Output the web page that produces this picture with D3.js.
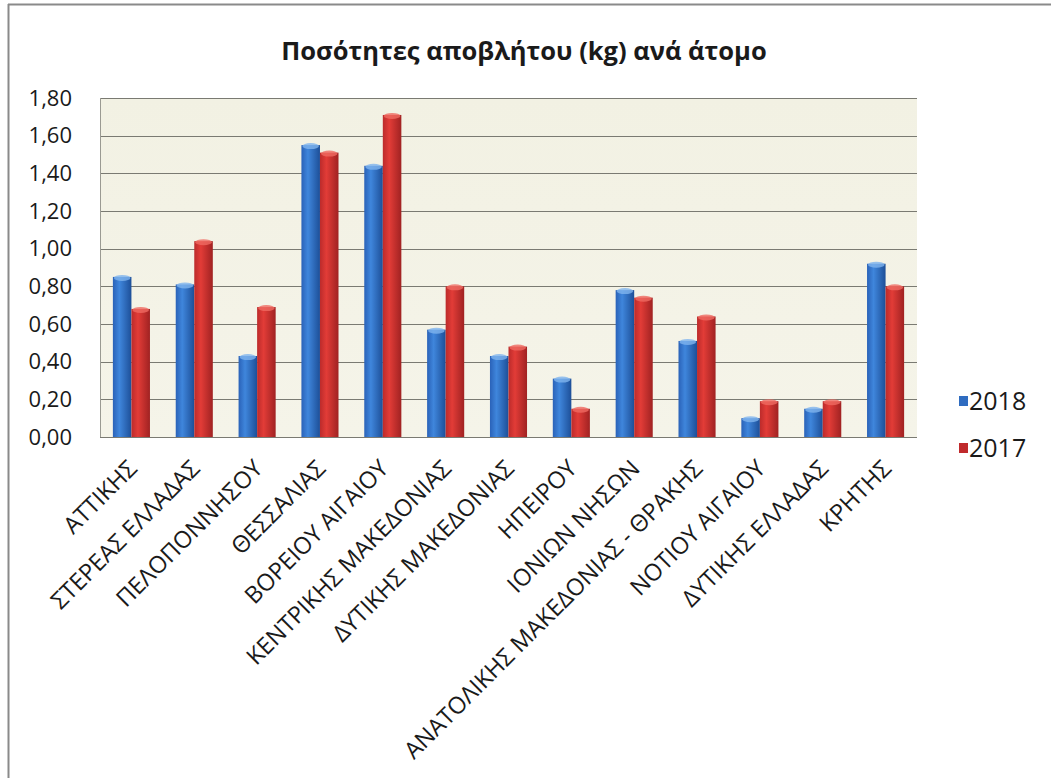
<!DOCTYPE html>
<html>
<head>
<meta charset="utf-8">
<script src="https://cdn.jsdelivr.net/npm/d3@7"></script>
<style>
  html, body { margin: 0; padding: 0; background: #ffffff; }
  svg { display: block; }
</style>
</head>
<body>
<svg id="chart" width="1051" height="778"></svg>
<script>
const title = "Ποσότητες αποβλήτου (kg) ανά άτομο";
const categories = [
  "ΑΤΤΙΚΗΣ", "ΣΤΕΡΕΑΣ ΕΛΛΑΔΑΣ", "ΠΕΛΟΠΟΝΝΗΣΟΥ", "ΘΕΣΣΑΛΙΑΣ", "ΒΟΡΕΙΟΥ ΑΙΓΑΙΟΥ",
  "ΚΕΝΤΡΙΚΗΣ ΜΑΚΕΔΟΝΙΑΣ", "ΔΥΤΙΚΗΣ ΜΑΚΕΔΟΝΙΑΣ", "ΗΠΕΙΡΟΥ", "ΙΟΝΙΩΝ ΝΗΣΩΝ",
  "ΑΝΑΤΟΛΙΚΗΣ ΜΑΚΕΔΟΝΙΑΣ - ΘΡΑΚΗΣ", "ΝΟΤΙΟΥ ΑΙΓΑΙΟΥ", "ΔΥΤΙΚΗΣ ΕΛΛΑΔΑΣ", "ΚΡΗΤΗΣ"
];
const seriesNames = ["2018", "2017"];
const values2018 = [0.85, 0.81, 0.43, 1.55, 1.44, 0.57, 0.43, 0.31, 0.78, 0.51, 0.10, 0.15, 0.92];
const values2017 = [0.68, 1.04, 0.69, 1.51, 1.71, 0.80, 0.48, 0.15, 0.74, 0.64, 0.19, 0.19, 0.80];
const yTicks = [0, 0.2, 0.4, 0.6, 0.8, 1.0, 1.2, 1.4, 1.6, 1.8];

const svg = d3.select("#chart");
const font = "'Open Sans', 'Noto Sans', sans-serif";

const plot = { left: 100, right: 917, top: 98, bottom: 437 };

// defs: gradients
const defs = svg.append("defs");
function cyl(id, c0, c1, c2) {
  const g = defs.append("linearGradient").attr("id", id)
    .attr("x1", "0%").attr("x2", "100%").attr("y1", "0%").attr("y2", "0%");
  g.append("stop").attr("offset", "0%").attr("stop-color", c0);
  g.append("stop").attr("offset", "35%").attr("stop-color", c1);
  g.append("stop").attr("offset", "100%").attr("stop-color", c2);
}
cyl("gBlue", "#2a62b8", "#3f86dc", "#1d4f98");
cyl("gRed", "#bc2b2b", "#e23c37", "#a02222");
const bg = defs.append("linearGradient").attr("id", "gBg")
  .attr("x1", "0%").attr("x2", "0%").attr("y1", "0%").attr("y2", "100%");
bg.append("stop").attr("offset", "0%").attr("stop-color", "#f2f1e3");
bg.append("stop").attr("offset", "100%").attr("stop-color", "#f5f4e9");

// outer frame
svg.append("line").attr("x1", 8).attr("x2", 1051).attr("y1", 4.5).attr("y2", 4.5)
  .attr("stroke", "#8a8a8a").attr("stroke-width", 2);
svg.append("line").attr("x1", 8.5).attr("x2", 8.5).attr("y1", 4).attr("y2", 778)
  .attr("stroke", "#8a8a8a").attr("stroke-width", 2);

// scales
const x = d3.scaleBand().domain(categories).range([plot.left, plot.right])
  .paddingInner(0.41).paddingOuter(0.205);
const xs = d3.scaleBand().domain(seriesNames).range([0, x.bandwidth()]);
const y = d3.scaleLinear().domain([0, 1.8]).range([plot.bottom, plot.top]);

// plot background
svg.append("rect").attr("x", plot.left).attr("y", plot.top)
  .attr("width", plot.right - plot.left).attr("height", plot.bottom - plot.top)
  .attr("fill", "url(#gBg)");

// gridlines
svg.append("g").selectAll("line").data(yTicks).join("line")
  .attr("x1", plot.left).attr("x2", plot.right)
  .attr("y1", d => Math.round(y(d)) + 0.5).attr("y2", d => Math.round(y(d)) + 0.5)
  .attr("stroke", "#7a7a72").attr("stroke-width", 1);
svg.append("line").attr("x1", plot.left + 0.5).attr("x2", plot.left + 0.5)
  .attr("y1", plot.top).attr("y2", plot.bottom)
  .attr("stroke", "#9a9a92").attr("stroke-width", 1);

// y axis labels
const fmt = d => d.toFixed(2).replace(".", ",");
svg.append("g").selectAll("text").data(yTicks).join("text")
  .attr("x", 72).attr("y", d => y(d))
  .attr("dy", "0.35em").attr("text-anchor", "end")
  .attr("font-family", font).attr("font-size", 22).attr("fill", "#1a1a1a")
  .text(fmt);

// bars
const data = categories.map((c, i) => ({ cat: c, vals: [
  { s: "2018", v: values2018[i] }, { s: "2017", v: values2017[i] }
]}));
const grp = svg.append("g").selectAll("g").data(data).join("g")
  .attr("transform", d => `translate(${x(d.cat)},0)`);
const bar = grp.selectAll("g").data(d => d.vals).join("g");
bar.append("rect")
  .attr("x", d => xs(d.s)).attr("width", xs.bandwidth())
  .attr("y", d => y(d.v)).attr("height", d => y(0) - y(d.v))
  .attr("fill", d => d.s === "2018" ? "url(#gBlue)" : "url(#gRed)");
bar.append("ellipse")
  .attr("cx", d => xs(d.s) + xs.bandwidth() / 2).attr("cy", d => y(d.v) + 1)
  .attr("rx", xs.bandwidth() / 2 - 1).attr("ry", 3)
  .attr("fill", d => d.s === "2018" ? "#7fb4ee" : "#ef6a62").attr("opacity", 0.8);

// x labels
svg.append("g").selectAll("text").data(categories).join("text")
  .attr("transform", d => `translate(${x(d) + x.bandwidth() / 2 + 7},${plot.bottom + 33}) rotate(-45)`)
  .attr("text-anchor", "end")
  .attr("font-family", font).attr("font-size", 23.5).attr("fill", "#1a1a1a")
  .text(d => d);

// title
svg.append("text").attr("x", 524).attr("y", 60).attr("text-anchor", "middle")
  .attr("font-family", font).attr("font-size", 25.5).attr("font-weight", "bold")
  .attr("fill", "#1a1a1a").text(title);

// legend
const legendColors = { "2018": "#2f6cc0", "2017": "#c02a2c" };
const lg = svg.append("g").selectAll("g").data(seriesNames).join("g")
  .attr("transform", (d, i) => `translate(959,${401 + i * 47})`);
lg.append("rect").attr("x", 0).attr("y", -5).attr("width", 9).attr("height", 10)
  .attr("fill", d => legendColors[d]);
lg.append("text").attr("x", 10).attr("y", 0).attr("dy", "0.35em")
  .attr("font-family", font).attr("font-size", 25).attr("fill", "#1a1a1a")
  .text(d => d);
</script>
</body>
</html>
